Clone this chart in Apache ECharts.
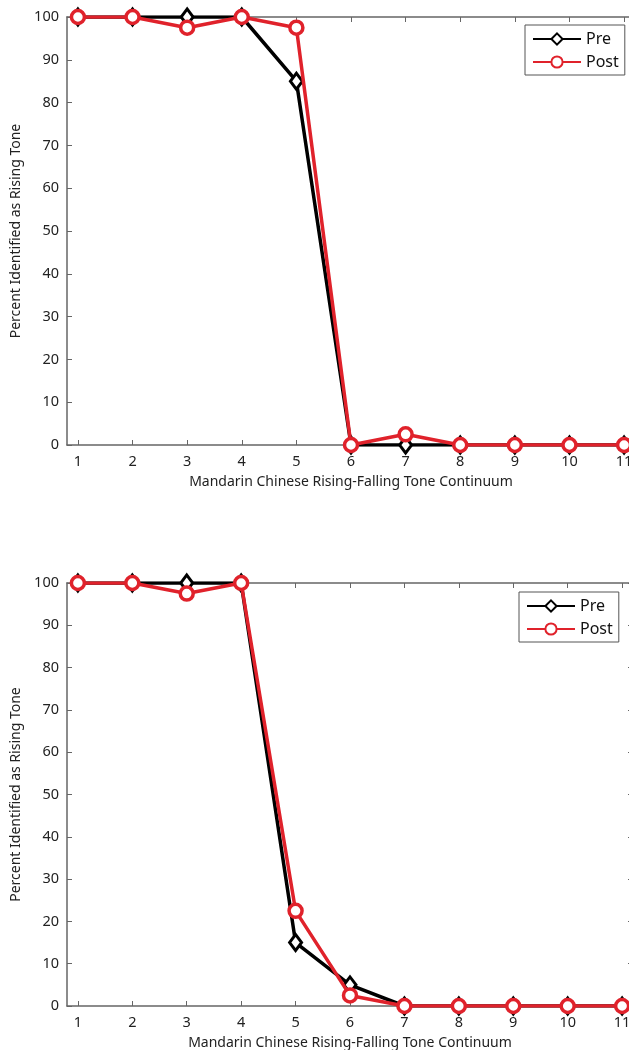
<!DOCTYPE html>
<html><head><meta charset="utf-8">
<script src="https://cdn.jsdelivr.net/npm/echarts@6/dist/echarts.min.js"></script>
<style>html,body{margin:0;padding:0;background:#fff}#c{width:629px;height:1050px}</style>
</head><body><div id="c"></div>
<script>
const continuum = [1,2,3,4,5,6,7,8,9,10,11];
const yTicks = [0,10,20,30,40,50,60,70,80,90,100];
const topPre  = [100,100,100,100,85,0,0,0,0,0,0];
const topPost = [100,100,97.5,100,97.5,0,2.5,0,0,0,0];
const botPre  = [100,100,100,100,15,5,0,0,0,0,0];
const botPost = [100,100,97.5,100,22.5,2.5,0,0,0,0,0];
const seriesNames = ['Pre','Post'];
const xTitle = 'Mandarin Chinese Rising-Falling Tone Continuum';
const yTitle = 'Percent Identified as Rising Tone';

const FONT = 'Noto Sans';
const AX = '#666';
const RED = '#e0222b';
const chart = echarts.init(document.getElementById('c'), null, {renderer:'canvas'});

const grids = [
  {left:67, top:17, width:568, height:428, outerBoundsMode:'none', containLabel:false},
  {left:67, top:583, width:566, height:423, outerBoundsMode:'none', containLabel:false}
];
const xAxes = [], yAxes = [], series = [];
const pairs = [[topPre, topPost],[botPre, botPost]];
grids.forEach((g,i)=>{
  const base = {min:0.8, max:11.2, interval:1, gridIndex:i, type:'value'};
  xAxes.push(Object.assign({}, base, {
    position:'bottom',
    name:xTitle, nameLocation:'middle', nameGap:30,
    nameTextStyle:{fontFamily:FONT, fontSize:14, color:'#222'},
    axisLine:{onZero:false, lineStyle:{color:AX, width:1.5}},
    axisTick:{inside:true, length:5, lineStyle:{color:AX}, customValues:continuum},
    axisLabel:{fontFamily:FONT, fontSize:14.5, color:'#222', margin:9, customValues:continuum},
    splitLine:{show:false}
  }));
  xAxes.push(Object.assign({}, base, {
    position:'top',
    axisLine:{onZero:false, lineStyle:{color:AX, width:1.5}},
    axisTick:{inside:true, length:5, lineStyle:{color:AX}, customValues:continuum},
    axisLabel:{show:false}, splitLine:{show:false}
  }));
  yAxes.push({
    type:'value', gridIndex:i, min:0, max:100, interval:10, position:'left',
    name:yTitle, nameLocation:'middle', nameGap:42,
    nameTextStyle:{fontFamily:FONT, fontSize:14, color:'#222'},
    axisLine:{show:true, lineStyle:{color:AX, width:1.5}},
    axisTick:{inside:true, length:5, lineStyle:{color:AX}},
    axisLabel:{fontFamily:FONT, fontSize:14.5, color:'#222', margin:8},
    splitLine:{show:false}
  });
  yAxes.push({
    type:'value', gridIndex:i, min:0, max:100, interval:10, position:'right',
    axisLine:{show:true, lineStyle:{color:AX, width:1.5}},
    axisTick:{inside:true, length:5, lineStyle:{color:AX}},
    axisLabel:{show:false}, splitLine:{show:false}
  });
  const [pre, post] = pairs[i];
  series.push({
    name:seriesNames[0], type:'line', xAxisIndex:i*2, yAxisIndex:i*2,
    data:continuum.map((x,k)=>[x,pre[k]]),
    symbol:'diamond', symbolSize:[12,16], showAllSymbol:true,
    lineStyle:{color:'#000', width:3.5},
    itemStyle:{color:'#fff', borderColor:'#000', borderWidth:3},
    z:2
  });
  series.push({
    name:seriesNames[1], type:'line', xAxisIndex:i*2, yAxisIndex:i*2,
    data:continuum.map((x,k)=>[x,post[k]]),
    symbol:'circle', symbolSize:13, showAllSymbol:true,
    lineStyle:{color:RED, width:3.5},
    itemStyle:{color:'#fff', borderColor:RED, borderWidth:3.5},
    z:3
  });
});

const legendBase = {
  orient:'vertical', itemWidth:48, itemHeight:14, itemGap:7,
  backgroundColor:'#fff', borderColor:'#555', borderWidth:1, padding:[6,6,5,7],
  textStyle:{fontFamily:FONT, fontSize:16, color:'#111'}, data:seriesNames
};
const legends = [
  Object.assign({}, legendBase, {left:525, top:25}),
  Object.assign({}, legendBase, {left:519, top:592})
];

chart.setOption({
  animation:false,
  backgroundColor:'#fff',
  grid:grids,
  xAxis:xAxes, yAxis:yAxes, series:series,
  legend:legends
});
</script></body></html>
